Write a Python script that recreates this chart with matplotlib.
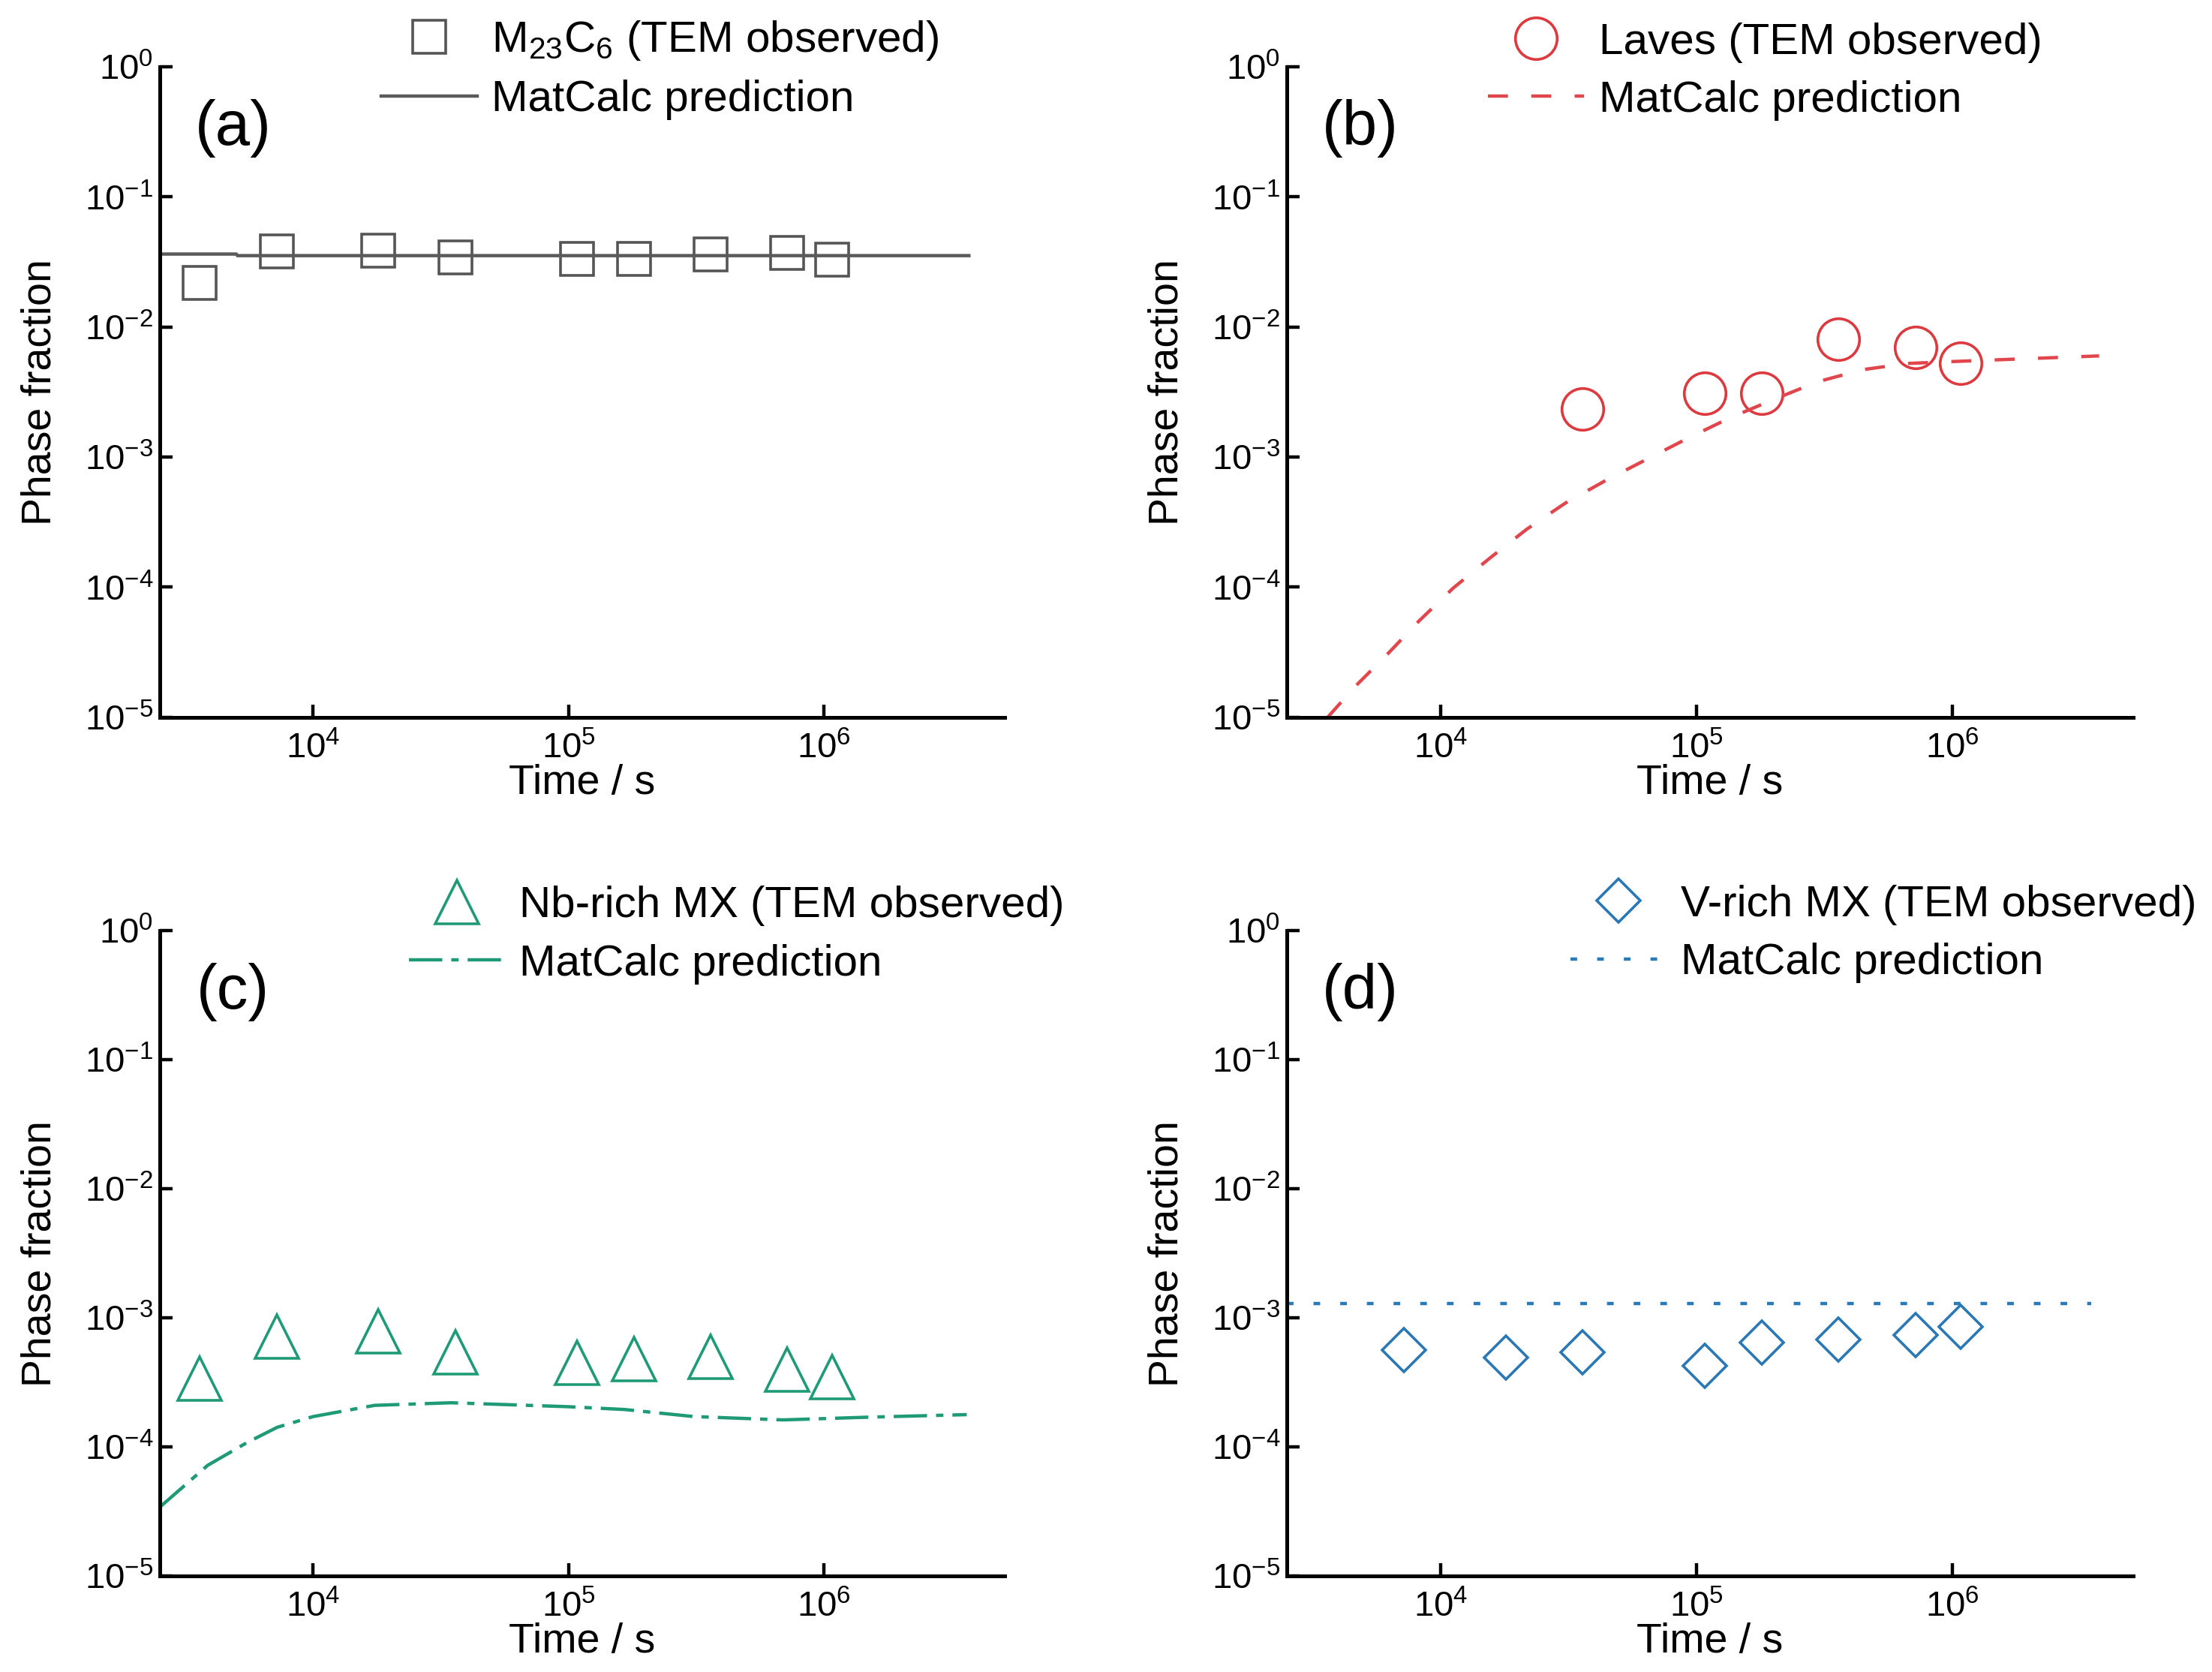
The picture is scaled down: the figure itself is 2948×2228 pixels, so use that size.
import numpy as np
import matplotlib
matplotlib.use('Agg')
import matplotlib.pyplot as plt

plt.rcParams['font.family'] = ['Liberation Sans', 'DejaVu Sans']
plt.rcParams['mathtext.fontset'] = 'custom'
plt.rcParams['mathtext.rm'] = 'Liberation Sans'
plt.rcParams['mathtext.it'] = 'Liberation Sans'
plt.rcParams['axes.linewidth'] = 1.8

# measured time points (s)
t_m23 = [3600, 7200, 18000, 36000, 108000, 180000, 360000, 720000, 1080000]
f_m23 = [0.0217, 0.0384, 0.0385, 0.0345, 0.0333, 0.0333, 0.0362, 0.0370, 0.0330]
t_m23_calc = [2500, 5000, 5050, 3.7e6]
f_m23_calc = [0.0364, 0.0364, 0.0354, 0.0354]

t_laves = [36000, 108000, 180000, 360000, 720000, 1080000]
f_laves = [0.00234, 0.0031, 0.0031, 0.0081, 0.0070, 0.0053]
t_laves_calc = [3622, 4603, 6166, 8241, 11220, 15630, 21730, 30760, 44460,
                64270, 92900, 134300, 197700, 297200, 446700, 671400,
                1.007e6, 1.95e6, 3.76e6]
f_laves_calc = [1.0e-5, 1.70e-5, 3.02e-5, 5.50e-5, 9.86e-5, 1.68e-4, 2.79e-4,
                4.43e-4, 6.65e-4, 9.66e-4, 1.40e-3, 1.99e-3, 2.74e-3, 3.79e-3,
                4.70e-3, 5.25e-3, 5.43e-3, 5.71e-3, 6.0e-3]

t_nb = [3600, 7200, 18000, 36000, 108000, 180000, 360000, 720000, 1080000]
f_nb = [3.4e-4, 7.2e-4, 7.9e-4, 5.4e-4, 4.5e-4, 4.8e-4, 5.0e-4, 4.0e-4, 3.5e-4]
t_nb_calc = [2500, 3860, 5500, 7230, 10000, 17400, 34700, 100000, 166000,
             309000, 692000, 1.48e6, 3.63e6]
f_nb_calc = [3.4e-5, 7.2e-5, 1.08e-4, 1.42e-4, 1.72e-4, 2.1e-4, 2.2e-4,
             2.05e-4, 1.95e-4, 1.72e-4, 1.62e-4, 1.7e-4, 1.78e-4]

t_v = [7200, 18000, 36000, 108000, 180000, 360000, 720000, 1080000]
f_v = [5.6e-4, 4.9e-4, 5.4e-4, 4.25e-4, 6.4e-4, 6.8e-4, 7.4e-4, 8.5e-4]
t_v_calc = [2500, 3.5e6]
f_v_calc = [1.29e-3, 1.29e-3]

panels = [
    dict(pos=[0.0721, 0.571, 0.382, 0.389], tag='(a)',
         t=t_m23, f=f_m23, tc=t_m23_calc, fc=f_m23_calc,
         marker='s', ms=16, mc='#555555', lc='#5a5a5a', ls='-',
         lab='M$_{23}$C$_6$ (TEM observed)', legx=0.262, legy=0.996),
    dict(pos=[0.5816, 0.571, 0.3827, 0.389], tag='(b)',
         t=t_laves, f=f_laves, tc=t_laves_calc, fc=f_laves_calc,
         marker='o', ms=20, mc='#dc3a3e', lc='#e0464b', ls=(0, (6, 7)),
         lab='Laves (TEM observed)', legx=0.238, legy=0.993),
    dict(pos=[0.0721, 0.0574, 0.382, 0.386], tag='(c)',
         t=t_nb, f=f_nb, tc=t_nb_calc, fc=f_nb_calc,
         marker='^', ms=21, mc='#1f9a76', lc='#1f9a76', ls=(0, (10, 2.7, 2.2, 2.7)),
         lab='Nb-rich MX (TEM observed)', legx=0.295, legy=0.993),
    dict(pos=[0.5816, 0.0574, 0.3827, 0.386], tag='(d)',
         t=t_v, f=f_v, tc=t_v_calc, fc=f_v_calc,
         marker='D', ms=15, mc='#2b78b4', lc='#2b7ab8', ls=(0, (2, 6)),
         lab='V-rich MX (TEM observed)', legx=0.335, legy=0.995),
]

fig = plt.figure(figsize=(14.74, 11.14), dpi=200)

for p in panels:
    ax = fig.add_axes(p['pos'])
    ax.plot(p['t'], p['f'], linestyle='none', marker=p['marker'], ms=p['ms'],
            mfc='none', mec=p['mc'], mew=1.3, label=p['lab'], clip_on=False)
    ax.plot(p['tc'], p['fc'], color=p['lc'], ls=p['ls'], lw=1.6,
            label='MatCalc prediction')
    ax.set_xscale('log')
    ax.set_yscale('log')
    ax.set_xlim(2500, 5.1e6)
    ax.set_ylim(1e-5, 1)
    ax.set_xticks([1e4, 1e5, 1e6])
    ax.set_yticks([1e-5, 1e-4, 1e-3, 1e-2, 1e-1, 1e0])
    ax.minorticks_off()
    ax.spines['top'].set_visible(False)
    ax.spines['right'].set_visible(False)
    ax.tick_params(direction='in', length=6, width=1.6, labelsize=17,
                   pad=7, colors='black')
    ax.tick_params(axis='y', pad=3)
    ax.set_xlabel('Time / s', fontsize=20)
    ax.set_ylabel('Phase fraction', fontsize=20)
    ax.xaxis.set_label_coords(0.5, -0.072)
    ax.yaxis.set_label_coords(-0.118, 0.5)
    ax.text(0.087, 0.905, p['tag'], transform=ax.transAxes, fontsize=30,
            ha='center', va='center')
    ax.legend(loc='center left', bbox_to_anchor=(p['legx'], p['legy']),
              frameon=False, fontsize=21, handlelength=2.2,
              handletextpad=0.33, labelspacing=0.4, borderpad=0,
              borderaxespad=0, markerscale=1.0)

fig.savefig('out.png', dpi=200)
